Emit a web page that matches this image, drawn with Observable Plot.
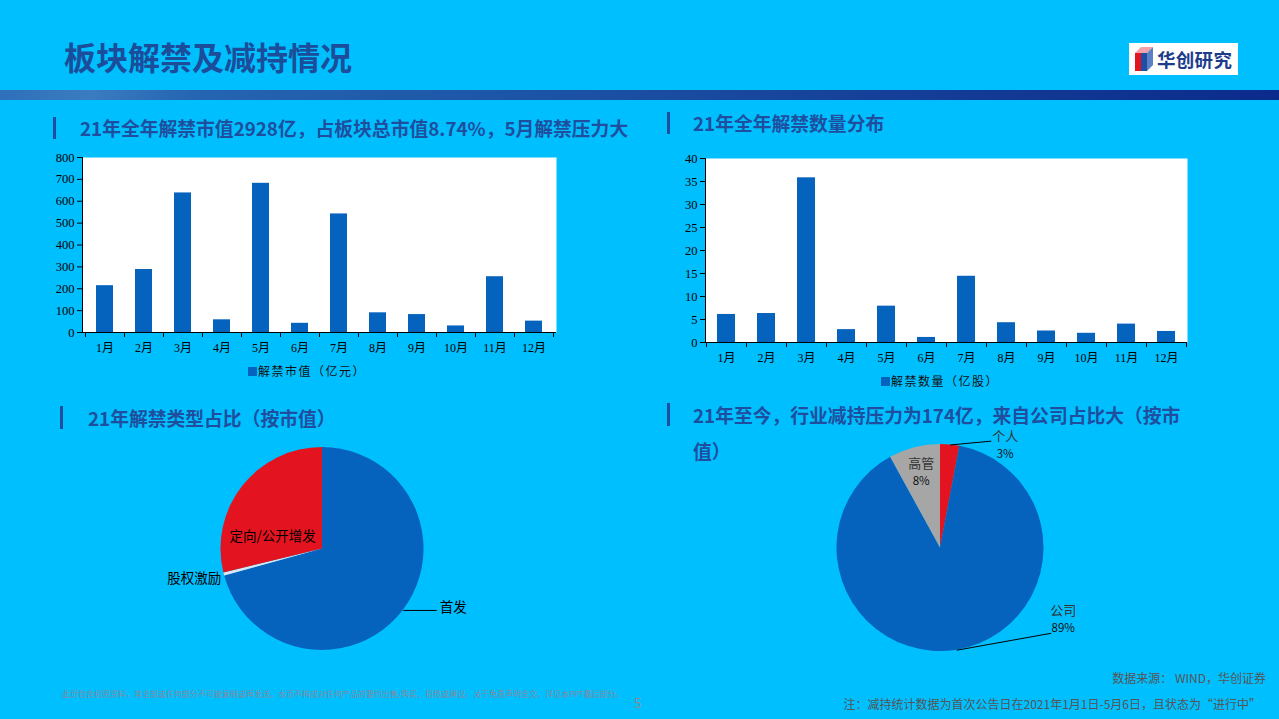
<!DOCTYPE html>
<html><head><meta charset="utf-8">
<script src="https://cdn.jsdelivr.net/npm/d3@7"></script>
<script src="https://cdn.jsdelivr.net/npm/@observablehq/plot@0.6"></script>
<style>
html,body{margin:0;padding:0;}
body{width:1279px;height:719px;background:#00BFFF;position:relative;overflow:hidden;font-family:"Noto Sans CJK SC","Noto Sans",sans-serif;}
.abs{position:absolute;}
#title{left:64px;top:34px;font-size:32px;font-weight:700;color:#1B4D9A;line-height:44px;white-space:nowrap;}
#band{left:0;top:90px;width:1279px;height:10px;background:linear-gradient(to right,#2e70b9 0%,#3b7cc0 7%,#2565b2 15%,#1d55a6 40%,#153f98 70%,#0b2b8c 100%);}
#logo{left:1129px;top:43px;width:109px;height:32px;background:#fff;}
#logoText{left:1157px;top:45px;font-size:18.5px;font-weight:700;color:#1d3c8c;line-height:28px;white-space:nowrap;letter-spacing:0.3px}
.hdr{font-size:18.8px;font-weight:700;color:#1F4E9E;white-space:nowrap;line-height:24px;}
.mk{width:3px;background:#1F4E9E;}
.legend{font-size:12px;color:#111;white-space:nowrap;line-height:16px;letter-spacing:1.5px;display:flex;align-items:center;}
.legend span.sw{display:inline-block;width:9px;height:9px;background:#0562BD;margin-right:1px;}
#src{right:13px;top:669px;font-size:12px;color:#555;white-space:nowrap;line-height:18px;}
#note{right:18px;top:695px;font-size:12px;color:#555;white-space:nowrap;line-height:18px;}
#disc{left:62px;top:688px;font-size:8px;color:#8a8799;white-space:nowrap;line-height:12px;}
#page{left:634px;top:695px;font-size:13px;color:#8c8c8c;line-height:16px;}
</style></head>
<body>
<div id="title" class="abs">板块解禁及减持情况</div>
<div id="logo" class="abs"></div>
<svg class="abs" style="left:1132px;top:45px" width="24" height="28" viewBox="0 0 24 28">
  <polygon points="3,8 9,2 21,2 15,8" fill="#f3a0a8"/>
  <polygon points="3,8 9,8 9,26 3,26" fill="#e3141f"/>
  <polygon points="9,8 15,8 15,26 9,26" fill="#1f4fa3"/>
  <polygon points="15,8 21,2 21,20 15,26" fill="#5b7fc4"/>
</svg>
<div id="logoText" class="abs">华创研究</div>
<div id="band" class="abs"></div>

<div class="abs mk" style="left:53px;top:117px;height:22px"></div>
<div class="abs hdr" style="left:80px;top:116px">21年全年解禁市值2928亿，占板块总市值8.74%，5月解禁压力大</div>
<div class="abs mk" style="left:667px;top:112px;height:22px"></div>
<div class="abs hdr" style="left:693px;top:111px">21年全年解禁数量分布</div>
<div class="abs mk" style="left:60px;top:406px;height:23px"></div>
<div class="abs hdr" style="left:88px;top:406px">21年解禁类型占比（按市值）</div>
<div class="abs mk" style="left:667px;top:403px;height:23px"></div>
<div class="abs hdr" style="left:693px;top:403px">21年至今，行业减持压力为174亿，来自公司占比大（按市</div>
<div class="abs hdr" style="left:693px;top:439px">值）</div>

<div id="c1" class="abs" style="left:40px;top:148px"></div>
<div id="c2" class="abs" style="left:660px;top:148px"></div>
<div class="abs legend" style="left:248px;top:363px"><span class="sw"></span>解禁市值（亿元）</div>
<div class="abs legend" style="left:881px;top:373px"><span class="sw"></span>解禁数量（亿股）</div>
<div id="p1" class="abs" style="left:150px;top:430px"></div>
<div id="p2" class="abs" style="left:800px;top:425px"></div>

<div id="src" class="abs">数据来源： WIND，华创证券</div>
<div id="note" class="abs">注：减持统计数据为首次公告日在2021年1月1日-5月6日，且状态为“进行中”</div>
<div id="disc" class="abs">此页包含机密资料，其全部或任何部分不可被复制或再发送。本页不构成对任何产品的要约出售/购买、招揽或建议。关于免责声明全文，详见本PPT最后部分。</div>
<div id="page" class="abs">5</div>

<script>
// ---------- data ----------
const months = ["1月","2月","3月","4月","5月","6月","7月","8月","9月","10月","11月","12月"];
const unlockValue = [214, 288, 638, 58, 682, 42, 542, 90, 82, 30, 255, 52];      // 解禁市值（亿元）
const unlockShares = [6.1, 6.3, 35.8, 2.8, 7.9, 1.1, 14.4, 4.3, 2.5, 2.0, 4.0, 2.4]; // 解禁数量（亿股）
const valueTicks = [0,100,200,300,400,500,600,700,800];
const shareTicks = [0,5,10,15,20,25,30,35,40];
const unlockTypes = ["首发", "股权激励", "定向/公开增发"];
const unlockTypeShare = [70.7, 0.5, 28.8];
const holderTypes = ["个人", "公司", "高管"];
const holderShare = [3, 89, 8];

const BLUE = "#0562BD", RED = "#E3141F", GRAY = "#A6A6A6";
const serif = "'Liberation Serif','Times New Roman','Noto Sans CJK SC',serif";
const sans = "'Noto Sans CJK SC','Noto Sans',sans-serif";

// Excel-like axis lines and category boundary ticks
function excelAxes(cats) {
  return (index, scales, values, dims) => {
    const x = scales.x;
    const L = dims.marginLeft, R = dims.width - dims.marginRight;
    const T = dims.marginTop, B = dims.height - dims.marginBottom;
    const g = d3.create("svg:g").attr("stroke", "#000").attr("stroke-width", 1);
    g.append("line").attr("x1", L + 0.5).attr("x2", L + 0.5).attr("y1", T).attr("y2", B + 0.5);
    g.append("line").attr("x1", L).attr("x2", R).attr("y1", B + 0.5).attr("y2", B + 0.5);
    const bw = typeof x.bandwidth === "function" ? x.bandwidth() : 0;
    const step = typeof x.step === "function" ? x.step() : (x(cats[1]) - x(cats[0]));
    const pos = cats.map(c => x(c) - (step - bw) / 2);
    pos.push(x(cats[cats.length - 1]) + bw + (step - bw) / 2);
    for (const p of pos) {
      g.append("line").attr("x1", Math.round(p) + 0.5).attr("x2", Math.round(p) + 0.5).attr("y1", B).attr("y2", B + 5);
    }
    return g.node();
  };
}

function barChart(vals, ticks, ymax, w, h, m) {
  const data = months.map((mo, i) => ({month: mo, v: vals[i]}));
  return Plot.plot({
    width: w, height: h,
    marginLeft: m[0], marginRight: m[1], marginTop: m[2], marginBottom: m[3],
    style: {background: "transparent", color: "#000", fontFamily: serif, overflow: "visible"},
    x: {domain: months, paddingInner: 0.56, paddingOuter: 0.28, label: null},
    y: {domain: [0, ymax], label: null},
    marks: [
      Plot.frame({fill: "white", stroke: null}),
      Plot.barY(data, {x: "month", y: "v", fill: BLUE}),
      Plot.axisY({ticks: ticks, tickSize: 5, tickPadding: 3, fontSize: 12.5, label: null, stroke: "#000"}),
      Plot.axisX({tickSize: 0, tickPadding: 11, fontSize: 12, label: null}),
      excelAxes(months)
    ]
  });
}

document.getElementById("c1").append(barChart(unlockValue, valueTicks, 800, 530, 240, [42, 14, 9, 56]));
document.getElementById("c2").append(barChart(unlockShares, shareTicks, 40, 540, 250, [45, 13, 10, 56]));

// ---------- pies ----------
function pieRender(vals, colors) {
  return (index, scales) => {
    const cx = scales.x(0), cy = scales.y(0), r = scales.x(1) - scales.x(0);
    const arcs = d3.pie().sort(null).value(d => d)(vals);
    const arc = d3.arc().innerRadius(0).outerRadius(r);
    const g = d3.create("svg:g").attr("transform", `translate(${cx},${cy})`);
    g.selectAll("path").data(arcs).join("path")
      .attr("d", arc).attr("fill", (d, i) => colors[i]);
    return g.node();
  };
}
function sliceInfo(names, vals) {
  return d3.pie().sort(null).value(d => d)(vals).map((a, i) => {
    const mid = (a.startAngle + a.endAngle) / 2;
    return {name: names[i], v: vals[i], sx: Math.sin(mid), sy: Math.cos(mid)};
  });
}

// Pie 1
{
  const s = sliceInfo(unlockTypes, unlockTypeShare);
  const ipo = s[0], inc = s[1], pp = s[2];
  const cx = 172, cy = 118.5, r = 101.5;
  const lead = [{x1: ipo.sx, y1: ipo.sy, x2: ipo.sx + 0.33, y2: ipo.sy}];
  const p = Plot.plot({
    width: 340, height: 240, margin: 0,
    style: {background: "transparent", overflow: "visible", fontFamily: sans, color: "#000"},
    x: {domain: [-1, 1], range: [cx - r, cx + r], axis: null},
    y: {domain: [-1, 1], range: [cy + r, cy - r], axis: null},
    marks: [
      pieRender(unlockTypeShare, [BLUE, "#DCE6F2", RED]),
      Plot.link(lead, {x1: "x1", y1: "y1", x2: "x2", y2: "y2", stroke: "#000", strokeWidth: 1}),
      Plot.text([ipo], {x: d => d.sx + 0.36, y: d => d.sy, text: "name", textAnchor: "start", dy: -3, fontSize: 13.5, fill: "#000"}),
      Plot.text([inc], {x: "sx", y: "sy", text: "name", textAnchor: "end", dx: -3, dy: 4, fontSize: 13.5, fill: "#000"}),
      Plot.text([pp], {x: d => d.sx * 0.5, y: d => d.sy * 0.5, text: "name", dx: -10, dy: 19, fontSize: 13.5, fill: "#000"})
    ]
  });
  document.getElementById("p1").append(p);
}

// Pie 2
{
  const s = sliceInfo(holderTypes, holderShare);
  const ind = s[0], com = s[1], exe = s[2];
  const cx = 140, cy = 122.5, r = 103.5;
  const lead = [
    {x1: ind.sx, y1: ind.sy, x2: ind.sx + 0.396, y2: ind.sy + 0.037},
    {x1: com.sx, y1: com.sy, x2: com.sx + 0.913, y2: com.sy + 0.164}
  ];
  // label anchor points (unit coords) with pixel offsets converted to units
  const off = (x, y, dxPx, dyPx) => ({x: x + dxPx / r, y: y - dyPx / r});
  const labels = [
    {name: ind.name, pct: ind.v + "%", ...off(lead[0].x2, lead[0].y2, 14, -4)},
    {name: exe.name, pct: exe.v + "%", ...off(exe.sx * 0.75, exe.sy * 0.75, 0, -9)},
    {name: com.name, pct: com.v + "%", ...off(lead[1].x2, lead[1].y2, 12, -22)}
  ];
  const p = Plot.plot({
    width: 300, height: 240, margin: 0,
    style: {background: "transparent", overflow: "visible", fontFamily: sans, color: "#000"},
    x: {domain: [-1, 1], range: [cx - r, cx + r], axis: null},
    y: {domain: [-1, 1], range: [cy + r, cy - r], axis: null},
    marks: [
      pieRender(holderShare, [RED, BLUE, GRAY]),
      Plot.link(lead, {x1: "x1", y1: "y1", x2: "x2", y2: "y2", stroke: "#000", strokeWidth: 1}),
      Plot.text(labels, {x: "x", y: "y", text: "name", fontSize: 13, fill: "#333"}),
      Plot.text(labels, {x: "x", y: "y", text: "pct", dy: 17, fontSize: 11.5, fill: "#111"})
    ]
  });
  document.getElementById("p2").append(p);
}
</script>
</body></html>
